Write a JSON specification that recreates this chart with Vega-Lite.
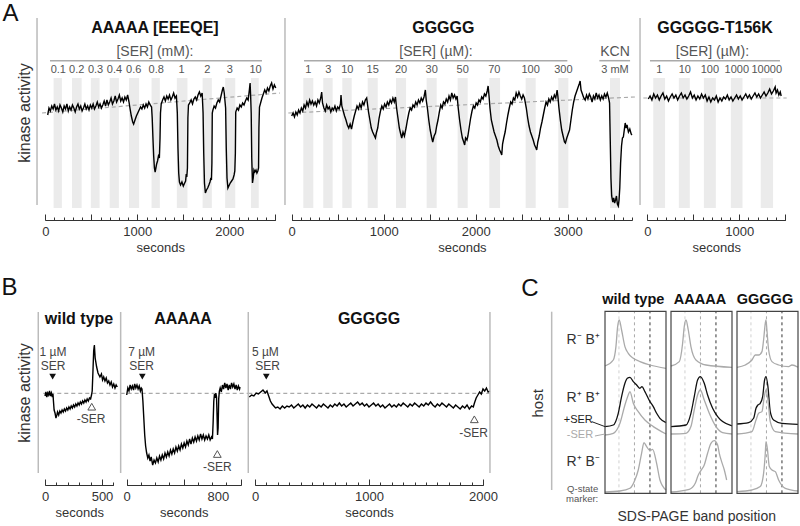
{
"$schema":"https://vega.github.io/schema/vega-lite/v6.json",
"width":800,"height":526,"autosize":{"type":"none"},"padding":0,"background":"white",
"config":{"view":{"stroke":null},"font":"Liberation Sans","axis":{"grid":false,"labelFont":"Liberation Sans","titleFont":"Liberation Sans","labelFlush":false,"labelOverlap":false,"labelBound":false,"domainColor":"#333","tickColor":"#333","labelColor":"#333","titleColor":"#333","titleFontWeight":"normal"}},
"datasets":{
"bandsA1":[{"start":90,"end":180,"conc":"0.1"},{"start":290,"end":395,"conc":"0.2"},{"start":495,"end":590,"conc":"0.3"},{"start":700,"end":800,"conc":"0.4"},{"start":910,"end":1020,"conc":"0.6"},{"start":1155,"end":1245,"conc":"0.8"},{"start":1430,"end":1545,"conc":"1"},{"start":1710,"end":1810,"conc":"2"},{"start":1955,"end":2065,"conc":"3"},{"start":2235,"end":2320,"conc":"10"}],
"bandsA2":[{"start":126,"end":235,"conc":"1"},{"start":343,"end":445,"conc":"3"},{"start":550,"end":652,"conc":"10"},{"start":826,"end":935,"conc":"15"},{"start":1134,"end":1243,"conc":"20"},{"start":1467,"end":1576,"conc":"30"},{"start":1804,"end":1913,"conc":"50"},{"start":2148,"end":2265,"conc":"70"},{"start":2543,"end":2652,"conc":"100"},{"start":2898,"end":3007,"conc":"300"},{"start":3460,"end":3568,"conc":"3 mM"}],
"bandsA3":[{"start":65,"end":193,"conc":"1"},{"start":343,"end":462,"conc":"10"},{"start":615,"end":745,"conc":"100"},{"start":908,"end":1035,"conc":"1000"},{"start":1233,"end":1367,"conc":"10000"}],
"traceA1":[{"t":26,"v":93},{"t":40,"v":100},{"t":55,"v":97},{"t":70,"v":102},{"t":85,"v":99},{"t":100,"v":104},{"t":115,"v":98},{"t":130,"v":101},{"t":145,"v":97},{"t":160,"v":103},{"t":175,"v":100},{"t":190,"v":96},{"t":205,"v":102},{"t":220,"v":99},{"t":235,"v":104},{"t":250,"v":97},{"t":265,"v":101},{"t":280,"v":98},{"t":295,"v":103},{"t":310,"v":100},{"t":325,"v":96},{"t":340,"v":101},{"t":355,"v":104},{"t":370,"v":99},{"t":385,"v":102},{"t":400,"v":97},{"t":415,"v":100},{"t":430,"v":104},{"t":445,"v":99},{"t":460,"v":102},{"t":475,"v":98},{"t":490,"v":103},{"t":505,"v":100},{"t":520,"v":104},{"t":535,"v":99},{"t":550,"v":102},{"t":565,"v":106},{"t":580,"v":101},{"t":595,"v":104},{"t":610,"v":100},{"t":625,"v":103},{"t":640,"v":107},{"t":655,"v":102},{"t":670,"v":108},{"t":685,"v":103},{"t":700,"v":106},{"t":715,"v":110},{"t":730,"v":104},{"t":745,"v":107},{"t":760,"v":112},{"t":775,"v":106},{"t":790,"v":109},{"t":805,"v":113},{"t":820,"v":107},{"t":835,"v":110},{"t":850,"v":106},{"t":865,"v":111},{"t":880,"v":108},{"t":895,"v":113},{"t":910,"v":106},{"t":920,"v":100},{"t":935,"v":92},{"t":950,"v":86},{"t":960,"v":84},{"t":975,"v":88},{"t":990,"v":92},{"t":1005,"v":95},{"t":1020,"v":98},{"t":1035,"v":101},{"t":1050,"v":99},{"t":1065,"v":103},{"t":1080,"v":100},{"t":1095,"v":104},{"t":1110,"v":101},{"t":1125,"v":106},{"t":1140,"v":103},{"t":1155,"v":101},{"t":1162,"v":90},{"t":1170,"v":70},{"t":1178,"v":52},{"t":1186,"v":40},{"t":1194,"v":36},{"t":1202,"v":40},{"t":1210,"v":44},{"t":1220,"v":47},{"t":1230,"v":52},{"t":1240,"v":50},{"t":1247,"v":70},{"t":1252,"v":95},{"t":1260,"v":104},{"t":1275,"v":108},{"t":1290,"v":111},{"t":1305,"v":107},{"t":1320,"v":112},{"t":1335,"v":109},{"t":1350,"v":113},{"t":1365,"v":108},{"t":1380,"v":111},{"t":1395,"v":115},{"t":1410,"v":110},{"t":1425,"v":112},{"t":1435,"v":95},{"t":1442,"v":60},{"t":1450,"v":35},{"t":1458,"v":26},{"t":1470,"v":23},{"t":1485,"v":26},{"t":1500,"v":22},{"t":1515,"v":25},{"t":1525,"v":27},{"t":1532,"v":34},{"t":1538,"v":31},{"t":1545,"v":40},{"t":1550,"v":90},{"t":1556,"v":103},{"t":1570,"v":105},{"t":1585,"v":108},{"t":1600,"v":104},{"t":1615,"v":109},{"t":1630,"v":111},{"t":1645,"v":108},{"t":1660,"v":113},{"t":1675,"v":116},{"t":1690,"v":112},{"t":1705,"v":115},{"t":1715,"v":95},{"t":1722,"v":55},{"t":1730,"v":25},{"t":1740,"v":15},{"t":1752,"v":18},{"t":1765,"v":20},{"t":1778,"v":23},{"t":1790,"v":26},{"t":1800,"v":30},{"t":1806,"v":28},{"t":1811,"v":45},{"t":1815,"v":95},{"t":1822,"v":98},{"t":1835,"v":102},{"t":1850,"v":100},{"t":1865,"v":105},{"t":1880,"v":108},{"t":1895,"v":106},{"t":1910,"v":112},{"t":1925,"v":118},{"t":1935,"v":121},{"t":1945,"v":115},{"t":1960,"v":100},{"t":1967,"v":60},{"t":1975,"v":30},{"t":1985,"v":20},{"t":1995,"v":22},{"t":2010,"v":25},{"t":2025,"v":27},{"t":2040,"v":29},{"t":2052,"v":33},{"t":2060,"v":37},{"t":2066,"v":55},{"t":2070,"v":96},{"t":2085,"v":100},{"t":2100,"v":98},{"t":2115,"v":103},{"t":2130,"v":101},{"t":2145,"v":105},{"t":2160,"v":103},{"t":2175,"v":107},{"t":2190,"v":110},{"t":2205,"v":108},{"t":2218,"v":118},{"t":2226,"v":125},{"t":2232,"v":112},{"t":2238,"v":95},{"t":2244,"v":50},{"t":2252,"v":25},{"t":2260,"v":30},{"t":2268,"v":38},{"t":2278,"v":36},{"t":2290,"v":38},{"t":2300,"v":35},{"t":2310,"v":37},{"t":2318,"v":40},{"t":2322,"v":80},{"t":2328,"v":101},{"t":2340,"v":105},{"t":2355,"v":110},{"t":2370,"v":114},{"t":2385,"v":118},{"t":2400,"v":115},{"t":2415,"v":120},{"t":2430,"v":117},{"t":2445,"v":122},{"t":2460,"v":125},{"t":2475,"v":119},{"t":2490,"v":123},{"t":2505,"v":120}],
"traceA2":[{"t":0,"v":92},{"t":15,"v":95},{"t":30,"v":91},{"t":45,"v":96},{"t":60,"v":93},{"t":75,"v":98},{"t":90,"v":95},{"t":105,"v":100},{"t":120,"v":97},{"t":135,"v":103},{"t":150,"v":100},{"t":165,"v":106},{"t":180,"v":102},{"t":195,"v":108},{"t":210,"v":104},{"t":225,"v":107},{"t":240,"v":103},{"t":255,"v":106},{"t":270,"v":102},{"t":285,"v":108},{"t":300,"v":105},{"t":315,"v":110},{"t":326,"v":116},{"t":335,"v":105},{"t":350,"v":100},{"t":365,"v":97},{"t":380,"v":103},{"t":395,"v":99},{"t":410,"v":101},{"t":425,"v":96},{"t":440,"v":100},{"t":455,"v":98},{"t":470,"v":102},{"t":485,"v":97},{"t":500,"v":101},{"t":515,"v":99},{"t":530,"v":104},{"t":536,"v":113},{"t":545,"v":102},{"t":560,"v":97},{"t":575,"v":92},{"t":590,"v":88},{"t":605,"v":83},{"t":620,"v":80},{"t":635,"v":84},{"t":650,"v":79},{"t":665,"v":86},{"t":680,"v":92},{"t":695,"v":97},{"t":710,"v":102},{"t":725,"v":99},{"t":740,"v":104},{"t":755,"v":100},{"t":770,"v":106},{"t":785,"v":103},{"t":800,"v":108},{"t":815,"v":110},{"t":825,"v":103},{"t":835,"v":96},{"t":850,"v":88},{"t":865,"v":80},{"t":880,"v":76},{"t":895,"v":73},{"t":910,"v":70},{"t":920,"v":75},{"t":935,"v":80},{"t":950,"v":90},{"t":965,"v":97},{"t":980,"v":102},{"t":995,"v":99},{"t":1010,"v":104},{"t":1025,"v":101},{"t":1040,"v":106},{"t":1055,"v":103},{"t":1070,"v":108},{"t":1085,"v":105},{"t":1100,"v":110},{"t":1115,"v":106},{"t":1128,"v":111},{"t":1140,"v":100},{"t":1155,"v":90},{"t":1170,"v":80},{"t":1185,"v":74},{"t":1196,"v":70},{"t":1210,"v":76},{"t":1225,"v":72},{"t":1243,"v":80},{"t":1258,"v":88},{"t":1273,"v":95},{"t":1288,"v":100},{"t":1303,"v":98},{"t":1318,"v":103},{"t":1333,"v":101},{"t":1348,"v":106},{"t":1363,"v":103},{"t":1378,"v":108},{"t":1393,"v":105},{"t":1408,"v":110},{"t":1423,"v":107},{"t":1438,"v":111},{"t":1453,"v":118},{"t":1462,"v":108},{"t":1475,"v":100},{"t":1490,"v":88},{"t":1505,"v":78},{"t":1520,"v":71},{"t":1533,"v":66},{"t":1548,"v":72},{"t":1563,"v":75},{"t":1576,"v":82},{"t":1590,"v":88},{"t":1605,"v":96},{"t":1620,"v":103},{"t":1635,"v":100},{"t":1650,"v":106},{"t":1665,"v":104},{"t":1680,"v":109},{"t":1695,"v":106},{"t":1710,"v":112},{"t":1725,"v":108},{"t":1740,"v":115},{"t":1755,"v":110},{"t":1770,"v":113},{"t":1785,"v":109},{"t":1798,"v":112},{"t":1810,"v":100},{"t":1825,"v":88},{"t":1840,"v":78},{"t":1855,"v":70},{"t":1870,"v":66},{"t":1880,"v":63},{"t":1890,"v":70},{"t":1905,"v":68},{"t":1915,"v":72},{"t":1930,"v":81},{"t":1945,"v":90},{"t":1960,"v":97},{"t":1975,"v":102},{"t":1990,"v":100},{"t":2005,"v":105},{"t":2020,"v":103},{"t":2035,"v":108},{"t":2050,"v":106},{"t":2065,"v":111},{"t":2080,"v":109},{"t":2095,"v":114},{"t":2110,"v":112},{"t":2125,"v":117},{"t":2135,"v":122},{"t":2145,"v":112},{"t":2155,"v":100},{"t":2170,"v":88},{"t":2185,"v":82},{"t":2200,"v":76},{"t":2215,"v":72},{"t":2230,"v":68},{"t":2245,"v":62},{"t":2260,"v":58},{"t":2275,"v":55},{"t":2283,"v":53},{"t":2292,"v":64},{"t":2305,"v":70},{"t":2320,"v":76},{"t":2335,"v":85},{"t":2350,"v":93},{"t":2365,"v":100},{"t":2380,"v":106},{"t":2395,"v":104},{"t":2410,"v":110},{"t":2425,"v":108},{"t":2440,"v":115},{"t":2455,"v":111},{"t":2470,"v":116},{"t":2485,"v":112},{"t":2500,"v":109},{"t":2515,"v":113},{"t":2530,"v":110},{"t":2550,"v":100},{"t":2565,"v":90},{"t":2580,"v":82},{"t":2595,"v":76},{"t":2610,"v":72},{"t":2625,"v":68},{"t":2640,"v":63},{"t":2655,"v":60},{"t":2663,"v":58},{"t":2675,"v":66},{"t":2690,"v":72},{"t":2705,"v":80},{"t":2720,"v":86},{"t":2735,"v":93},{"t":2750,"v":100},{"t":2765,"v":106},{"t":2780,"v":103},{"t":2795,"v":109},{"t":2810,"v":106},{"t":2825,"v":111},{"t":2840,"v":108},{"t":2855,"v":113},{"t":2870,"v":110},{"t":2885,"v":118},{"t":2893,"v":112},{"t":2905,"v":100},{"t":2920,"v":88},{"t":2935,"v":78},{"t":2950,"v":72},{"t":2965,"v":66},{"t":2975,"v":65},{"t":2990,"v":70},{"t":3005,"v":74},{"t":3020,"v":78},{"t":3035,"v":88},{"t":3050,"v":98},{"t":3065,"v":106},{"t":3080,"v":112},{"t":3095,"v":116},{"t":3110,"v":120},{"t":3125,"v":124},{"t":3135,"v":127},{"t":3145,"v":118},{"t":3160,"v":114},{"t":3175,"v":110},{"t":3190,"v":108},{"t":3205,"v":113},{"t":3220,"v":109},{"t":3235,"v":114},{"t":3250,"v":111},{"t":3265,"v":106},{"t":3280,"v":112},{"t":3295,"v":109},{"t":3310,"v":115},{"t":3325,"v":110},{"t":3340,"v":113},{"t":3355,"v":108},{"t":3370,"v":112},{"t":3385,"v":109},{"t":3400,"v":114},{"t":3415,"v":111},{"t":3430,"v":115},{"t":3445,"v":110},{"t":3455,"v":105},{"t":3462,"v":70},{"t":3470,"v":30},{"t":3478,"v":12},{"t":3490,"v":6},{"t":3500,"v":10},{"t":3510,"v":5},{"t":3520,"v":8},{"t":3530,"v":12},{"t":3540,"v":4},{"t":3550,"v":2},{"t":3558,"v":8},{"t":3566,"v":20},{"t":3575,"v":45},{"t":3585,"v":62},{"t":3595,"v":70},{"t":3605,"v":71},{"t":3615,"v":78},{"t":3625,"v":85},{"t":3635,"v":80},{"t":3645,"v":83},{"t":3660,"v":76},{"t":3675,"v":79},{"t":3690,"v":74},{"t":3698,"v":73}],
"traceA3":[{"t":11,"v":109},{"t":30,"v":112},{"t":50,"v":108},{"t":70,"v":114},{"t":90,"v":110},{"t":110,"v":113},{"t":130,"v":108},{"t":150,"v":112},{"t":170,"v":115},{"t":190,"v":109},{"t":210,"v":112},{"t":230,"v":107},{"t":250,"v":111},{"t":270,"v":114},{"t":290,"v":110},{"t":310,"v":113},{"t":330,"v":108},{"t":350,"v":112},{"t":370,"v":115},{"t":390,"v":110},{"t":410,"v":113},{"t":430,"v":109},{"t":450,"v":112},{"t":470,"v":116},{"t":490,"v":110},{"t":510,"v":113},{"t":530,"v":108},{"t":550,"v":112},{"t":570,"v":109},{"t":590,"v":114},{"t":610,"v":110},{"t":630,"v":113},{"t":650,"v":107},{"t":670,"v":111},{"t":690,"v":106},{"t":710,"v":110},{"t":730,"v":108},{"t":750,"v":112},{"t":770,"v":106},{"t":790,"v":110},{"t":810,"v":107},{"t":830,"v":111},{"t":850,"v":109},{"t":870,"v":113},{"t":890,"v":108},{"t":910,"v":111},{"t":930,"v":107},{"t":950,"v":110},{"t":970,"v":113},{"t":990,"v":109},{"t":1010,"v":112},{"t":1030,"v":108},{"t":1050,"v":111},{"t":1070,"v":114},{"t":1090,"v":110},{"t":1110,"v":113},{"t":1130,"v":109},{"t":1150,"v":112},{"t":1170,"v":115},{"t":1190,"v":111},{"t":1210,"v":114},{"t":1230,"v":110},{"t":1250,"v":113},{"t":1270,"v":116},{"t":1290,"v":112},{"t":1310,"v":115},{"t":1330,"v":119},{"t":1350,"v":114},{"t":1370,"v":117},{"t":1390,"v":121},{"t":1400,"v":115},{"t":1415,"v":118},{"t":1430,"v":113},{"t":1445,"v":116},{"t":1455,"v":112}],
"traceB1":[{"t":0,"v":77},{"t":8,"v":81},{"t":16,"v":76},{"t":24,"v":80},{"t":32,"v":78},{"t":40,"v":82},{"t":48,"v":77},{"t":56,"v":80},{"t":64,"v":76},{"t":70,"v":79},{"t":74,"v":72},{"t":80,"v":63},{"t":88,"v":60},{"t":96,"v":55},{"t":104,"v":58},{"t":110,"v":61},{"t":120,"v":58},{"t":130,"v":62},{"t":140,"v":60},{"t":150,"v":63},{"t":160,"v":61},{"t":170,"v":64},{"t":180,"v":62},{"t":190,"v":65},{"t":200,"v":63},{"t":210,"v":66},{"t":220,"v":64},{"t":230,"v":67},{"t":240,"v":65},{"t":250,"v":68},{"t":260,"v":66},{"t":270,"v":69},{"t":280,"v":67},{"t":290,"v":70},{"t":300,"v":68},{"t":310,"v":71},{"t":320,"v":69},{"t":330,"v":72},{"t":340,"v":70},{"t":350,"v":73},{"t":360,"v":71},{"t":370,"v":74},{"t":380,"v":72},{"t":390,"v":75},{"t":400,"v":74},{"t":408,"v":78},{"t":414,"v":82},{"t":420,"v":100},{"t":427,"v":122},{"t":433,"v":128},{"t":440,"v":115},{"t":453,"v":106},{"t":465,"v":100},{"t":482,"v":96},{"t":495,"v":99},{"t":505,"v":93},{"t":515,"v":96},{"t":526,"v":92},{"t":537,"v":95},{"t":548,"v":90},{"t":559,"v":92},{"t":570,"v":88},{"t":581,"v":91},{"t":592,"v":86},{"t":603,"v":89},{"t":614,"v":85},{"t":624,"v":88},{"t":634,"v":86}],
"traceB2":[{"t":0,"v":78},{"t":10,"v":85},{"t":20,"v":82},{"t":30,"v":88},{"t":40,"v":84},{"t":50,"v":87},{"t":60,"v":83},{"t":70,"v":89},{"t":80,"v":85},{"t":90,"v":88},{"t":100,"v":84},{"t":110,"v":87},{"t":120,"v":82},{"t":128,"v":85},{"t":134,"v":84},{"t":142,"v":72},{"t":150,"v":55},{"t":158,"v":38},{"t":166,"v":27},{"t":175,"v":20},{"t":185,"v":15},{"t":195,"v":18},{"t":205,"v":12},{"t":215,"v":16},{"t":228,"v":8},{"t":240,"v":13},{"t":252,"v":10},{"t":264,"v":15},{"t":276,"v":11},{"t":288,"v":17},{"t":300,"v":13},{"t":312,"v":18},{"t":324,"v":14},{"t":336,"v":20},{"t":348,"v":16},{"t":360,"v":21},{"t":372,"v":17},{"t":384,"v":23},{"t":396,"v":19},{"t":408,"v":24},{"t":420,"v":20},{"t":432,"v":26},{"t":444,"v":22},{"t":456,"v":27},{"t":468,"v":23},{"t":480,"v":29},{"t":492,"v":25},{"t":504,"v":30},{"t":516,"v":26},{"t":528,"v":32},{"t":540,"v":28},{"t":552,"v":34},{"t":564,"v":29},{"t":576,"v":35},{"t":588,"v":31},{"t":600,"v":36},{"t":612,"v":32},{"t":624,"v":37},{"t":636,"v":33},{"t":648,"v":39},{"t":660,"v":34},{"t":672,"v":38},{"t":684,"v":33},{"t":696,"v":37},{"t":708,"v":34},{"t":720,"v":38},{"t":732,"v":33},{"t":744,"v":36},{"t":752,"v":34},{"t":758,"v":50},{"t":764,"v":72},{"t":770,"v":79},{"t":776,"v":75},{"t":782,"v":80},{"t":788,"v":76},{"t":792,"v":60},{"t":797,"v":38},{"t":802,"v":45},{"t":807,"v":74},{"t":813,"v":82},{"t":820,"v":85},{"t":830,"v":81},{"t":840,"v":88},{"t":850,"v":84},{"t":860,"v":90},{"t":870,"v":85},{"t":880,"v":89},{"t":890,"v":83},{"t":900,"v":88},{"t":910,"v":84},{"t":920,"v":90},{"t":930,"v":86},{"t":940,"v":89},{"t":950,"v":84},{"t":960,"v":88},{"t":970,"v":83},{"t":980,"v":87},{"t":990,"v":84},{"t":994,"v":86}],
"traceB3":[{"t":-50,"v":76},{"t":-30,"v":78},{"t":-10,"v":77},{"t":10,"v":80},{"t":30,"v":79},{"t":50,"v":81},{"t":70,"v":83},{"t":90,"v":80},{"t":105,"v":82},{"t":120,"v":77},{"t":135,"v":72},{"t":150,"v":69},{"t":165,"v":67},{"t":180,"v":65},{"t":200,"v":66},{"t":220,"v":64},{"t":240,"v":67},{"t":260,"v":65},{"t":280,"v":67},{"t":300,"v":66},{"t":320,"v":68},{"t":340,"v":65},{"t":360,"v":67},{"t":380,"v":69},{"t":400,"v":66},{"t":420,"v":68},{"t":440,"v":65},{"t":460,"v":68},{"t":480,"v":66},{"t":500,"v":69},{"t":520,"v":67},{"t":540,"v":65},{"t":560,"v":68},{"t":580,"v":66},{"t":600,"v":69},{"t":620,"v":67},{"t":640,"v":65},{"t":660,"v":68},{"t":680,"v":66},{"t":700,"v":69},{"t":720,"v":67},{"t":740,"v":70},{"t":760,"v":67},{"t":780,"v":69},{"t":800,"v":66},{"t":820,"v":68},{"t":840,"v":70},{"t":860,"v":67},{"t":880,"v":69},{"t":900,"v":71},{"t":920,"v":68},{"t":940,"v":70},{"t":960,"v":67},{"t":980,"v":69},{"t":1000,"v":66},{"t":1020,"v":68},{"t":1040,"v":70},{"t":1060,"v":67},{"t":1080,"v":69},{"t":1100,"v":66},{"t":1120,"v":68},{"t":1140,"v":65},{"t":1160,"v":67},{"t":1180,"v":69},{"t":1200,"v":66},{"t":1220,"v":68},{"t":1240,"v":66},{"t":1260,"v":69},{"t":1280,"v":67},{"t":1300,"v":70},{"t":1320,"v":68},{"t":1340,"v":66},{"t":1360,"v":69},{"t":1380,"v":67},{"t":1400,"v":70},{"t":1420,"v":68},{"t":1440,"v":66},{"t":1460,"v":69},{"t":1480,"v":67},{"t":1500,"v":70},{"t":1520,"v":68},{"t":1540,"v":71},{"t":1560,"v":68},{"t":1580,"v":66},{"t":1600,"v":69},{"t":1620,"v":67},{"t":1640,"v":70},{"t":1660,"v":68},{"t":1680,"v":66},{"t":1700,"v":69},{"t":1720,"v":67},{"t":1740,"v":65},{"t":1760,"v":68},{"t":1780,"v":66},{"t":1800,"v":64},{"t":1820,"v":67},{"t":1840,"v":65},{"t":1860,"v":68},{"t":1880,"v":64},{"t":1900,"v":67},{"t":1915,"v":66},{"t":1925,"v":70},{"t":1940,"v":75},{"t":1955,"v":78},{"t":1970,"v":81},{"t":1985,"v":79},{"t":2000,"v":84},{"t":2015,"v":82},{"t":2030,"v":85},{"t":2045,"v":81},{"t":2061,"v":82}],
"curvesWT":[{"x":-1.8,"v":127.3,"s":"RmBp"},{"x":-0.73,"v":133.3,"s":"RmBp"},{"x":-0.39,"v":146.7,"s":"RmBp"},{"x":-0.17,"v":166.7,"s":"RmBp"},{"x":0.04,"v":173.3,"s":"RmBp"},{"x":0.34,"v":163.3,"s":"RmBp"},{"x":0.77,"v":146.7,"s":"RmBp"},{"x":1.2,"v":140,"s":"RmBp"},{"x":1.85,"v":135,"s":"RmBp"},{"x":2.71,"v":131.7,"s":"RmBp"},{"x":4.0,"v":128.3,"s":"RmBp"},{"x":6.07,"v":125,"s":"RmBp"},
{"x":-1.8,"v":66.7,"s":"plus"},{"x":-0.73,"v":68.3,"s":"plus"},{"x":-0.09,"v":80,"s":"plus"},{"x":0.34,"v":96.7,"s":"plus"},{"x":0.77,"v":110,"s":"plus"},{"x":1.08,"v":115,"s":"plus"},{"x":1.42,"v":116,"s":"plus"},{"x":1.85,"v":111.7,"s":"plus"},{"x":2.28,"v":108.3,"s":"plus"},{"x":2.71,"v":105,"s":"plus"},{"x":2.97,"v":106.7,"s":"plus"},{"x":3.35,"v":101.7,"s":"plus"},{"x":4.0,"v":91.7,"s":"plus"},{"x":4.43,"v":86.7,"s":"plus"},{"x":4.86,"v":80,"s":"plus"},{"x":5.29,"v":75,"s":"plus"},{"x":6.07,"v":70.7,"s":"plus"},
{"x":-1.8,"v":58.3,"s":"minus"},{"x":-0.73,"v":60,"s":"minus"},{"x":0.13,"v":70,"s":"minus"},{"x":0.77,"v":88.3,"s":"minus"},{"x":1.2,"v":98.3,"s":"minus"},{"x":1.42,"v":101.7,"s":"minus"},{"x":1.85,"v":90,"s":"minus"},{"x":2.49,"v":81.7,"s":"minus"},{"x":3.35,"v":73.3,"s":"minus"},{"x":4.43,"v":66.7,"s":"minus"},{"x":6.07,"v":59.3,"s":"minus"},
{"x":-1.8,"v":1.3,"s":"RpBm"},{"x":0.13,"v":2.3,"s":"RpBm"},{"x":1.42,"v":5,"s":"RpBm"},{"x":2.06,"v":13.3,"s":"RpBm"},{"x":2.49,"v":23.3,"s":"RpBm"},{"x":2.92,"v":40,"s":"RpBm"},{"x":3.23,"v":50.7,"s":"RpBm"},{"x":3.57,"v":46.7,"s":"RpBm"},{"x":4.0,"v":42.7,"s":"RpBm"},{"x":4.34,"v":44,"s":"RpBm"},{"x":4.86,"v":30,"s":"RpBm"},{"x":5.29,"v":13.3,"s":"RpBm"},{"x":6.07,"v":3.3,"s":"RpBm"}],
"curvesAA":[{"x":-1.8,"v":127.3,"s":"RmBp"},{"x":-0.73,"v":131.7,"s":"RmBp"},{"x":-0.3,"v":150,"s":"RmBp"},{"x":-0.09,"v":166.7,"s":"RmBp"},{"x":0.13,"v":173.3,"s":"RmBp"},{"x":0.43,"v":163.3,"s":"RmBp"},{"x":0.77,"v":146.7,"s":"RmBp"},{"x":1.42,"v":133.3,"s":"RmBp"},{"x":2.71,"v":128.3,"s":"RmBp"},{"x":6.07,"v":126,"s":"RmBp"},
{"x":-1.8,"v":66.7,"s":"plus"},{"x":0.13,"v":68.3,"s":"plus"},{"x":0.77,"v":80,"s":"plus"},{"x":1.2,"v":96.7,"s":"plus"},{"x":1.63,"v":113.3,"s":"plus"},{"x":1.98,"v":116.7,"s":"plus"},{"x":2.49,"v":110,"s":"plus"},{"x":2.92,"v":98.3,"s":"plus"},{"x":3.57,"v":85,"s":"plus"},{"x":4.22,"v":76.7,"s":"plus"},{"x":4.86,"v":71.7,"s":"plus"},{"x":6.07,"v":67.5,"s":"plus"},
{"x":-1.8,"v":59.3,"s":"minus"},{"x":0.13,"v":60,"s":"minus"},{"x":0.77,"v":66.7,"s":"minus"},{"x":1.2,"v":83.3,"s":"minus"},{"x":1.63,"v":98.3,"s":"minus"},{"x":1.98,"v":103.3,"s":"minus"},{"x":2.49,"v":93.3,"s":"minus"},{"x":3.14,"v":80,"s":"minus"},{"x":4.0,"v":66.7,"s":"minus"},{"x":4.86,"v":60.7,"s":"minus"},{"x":6.07,"v":59.3,"s":"minus"},
{"x":-1.8,"v":1.3,"s":"RpBm"},{"x":0.56,"v":4,"s":"RpBm"},{"x":1.33,"v":10,"s":"RpBm"},{"x":1.72,"v":18.3,"s":"RpBm"},{"x":2.06,"v":22.7,"s":"RpBm"},{"x":2.49,"v":28.3,"s":"RpBm"},{"x":2.92,"v":40,"s":"RpBm"},{"x":3.35,"v":50,"s":"RpBm"},{"x":3.78,"v":52.7,"s":"RpBm"},{"x":4.22,"v":48.3,"s":"RpBm"},{"x":4.43,"v":40,"s":"RpBm"},{"x":4.73,"v":31.7,"s":"RpBm"},{"x":5.08,"v":23.3,"s":"RpBm"},{"x":5.38,"v":13.3,"s":"RpBm"}],
"curvesGG":[{"x":-1.8,"v":126,"s":"RmBp"},{"x":-0.73,"v":128.3,"s":"RmBp"},{"x":0.13,"v":133.3,"s":"RmBp"},{"x":0.56,"v":138.3,"s":"RmBp"},{"x":0.99,"v":138.3,"s":"RmBp"},{"x":1.42,"v":141.7,"s":"RmBp"},{"x":1.63,"v":153.3,"s":"RmBp"},{"x":1.85,"v":170,"s":"RmBp"},{"x":1.94,"v":173.3,"s":"RmBp"},{"x":2.06,"v":163.3,"s":"RmBp"},{"x":2.28,"v":143.3,"s":"RmBp"},{"x":2.71,"v":131.7,"s":"RmBp"},{"x":3.57,"v":128.3,"s":"RmBp"},{"x":4.86,"v":126.7,"s":"RmBp"},{"x":5.29,"v":128.3,"s":"RmBp"},{"x":6.07,"v":126,"s":"RmBp"},
{"x":-1.8,"v":69.3,"s":"plus"},{"x":-0.3,"v":70.7,"s":"plus"},{"x":0.34,"v":75,"s":"plus"},{"x":0.65,"v":85,"s":"plus"},{"x":0.9,"v":88.3,"s":"plus"},{"x":1.2,"v":90,"s":"plus"},{"x":1.51,"v":96.7,"s":"plus"},{"x":1.76,"v":113.3,"s":"plus"},{"x":1.94,"v":116.7,"s":"plus"},{"x":2.19,"v":106.7,"s":"plus"},{"x":2.49,"v":81.7,"s":"plus"},{"x":2.92,"v":73.3,"s":"plus"},{"x":4.0,"v":70,"s":"plus"},{"x":6.07,"v":69,"s":"plus"},
{"x":-1.8,"v":59.3,"s":"minus"},{"x":0.13,"v":61.7,"s":"minus"},{"x":0.65,"v":73.3,"s":"minus"},{"x":0.99,"v":80,"s":"minus"},{"x":1.42,"v":81.7,"s":"minus"},{"x":1.72,"v":96.7,"s":"minus"},{"x":1.94,"v":103.3,"s":"minus"},{"x":2.19,"v":93.3,"s":"minus"},{"x":2.49,"v":71.7,"s":"minus"},{"x":3.14,"v":61.7,"s":"minus"},{"x":6.07,"v":59.3,"s":"minus"},
{"x":-1.8,"v":1.7,"s":"RpBm"},{"x":0.13,"v":3.3,"s":"RpBm"},{"x":1.2,"v":6.7,"s":"RpBm"},{"x":1.63,"v":20,"s":"RpBm"},{"x":1.85,"v":40,"s":"RpBm"},{"x":1.94,"v":51.7,"s":"RpBm"},{"x":2.11,"v":45,"s":"RpBm"},{"x":2.37,"v":26.7,"s":"RpBm"},{"x":2.71,"v":23.3,"s":"RpBm"},{"x":3.14,"v":21.7,"s":"RpBm"},{"x":3.57,"v":13.3,"s":"RpBm"},{"x":4.43,"v":5,"s":"RpBm"},{"x":6.07,"v":2.3,"s":"RpBm"}]
},
"layer":[
{"resolve":{"axis":{"x":"independent"}},"layer":[
 {"data":{"name":"bandsA1"},"mark":{"type":"rect","color":"#ebebeb"},"encoding":{"x":{"field":"start","type":"quantitative","scale":{"domain":[0,2500],"range":[45.3,275.3],"nice":false,"zero":false},"axis":{"orient":"bottom","offset":-306,"values":[0,100,200,300,400,500,600,700,800,900,1000,1100,1200,1300,1400,1500,1600,1700,1800,1900,2000,2100,2200,2300,2400,2500],"tickSize":-3,"labels":false,"domain":true,"title":null}},"x2":{"field":"end"},"y":{"datum":0,"type":"quantitative","scale":{"domain":[0,190],"range":[208,18],"nice":false,"zero":false},"axis":null},"y2":{"datum":130}}},
 {"data":{"name":"bandsA1"},"mark":{"type":"text","fontSize":11,"color":"#555","dx":4.7},"encoding":{"x":{"field":"start","type":"quantitative","axis":null},"y":{"datum":138,"type":"quantitative","axis":null},"text":{"field":"conc"}}},
 {"data":{"values":[{"t":-36,"v":95},{"t":2551,"v":115}]},"mark":{"type":"line","color":"#aaa","strokeDash":[4,3],"strokeWidth":1.2},"encoding":{"x":{"field":"t","type":"quantitative","axis":{"orient":"bottom","offset":-306,"values":[0,1000,2000],"ticks":false,"tickSize":0,"domain":false,"labelPadding":5,"labelFontSize":13,"format":"d","title":"seconds","titleFontSize":13,"titlePadding":3}},"y":{"field":"v","type":"quantitative","axis":null}}},
 {"data":{"name":"traceA1"},"mark":{"type":"line","color":"#000","strokeWidth":1.4},"encoding":{"x":{"field":"t","type":"quantitative","axis":{"orient":"bottom","offset":-306,"values":[0,500,1000,1500,2000,2500],"tickSize":-6,"labels":false,"domain":false,"title":null}},"y":{"field":"v","type":"quantitative","axis":null}}},
 {"data":{"values":[{}]},"mark":{"type":"rule","color":"#bbb","strokeWidth":1.5},"encoding":{"x":{"datum":-90,"type":"quantitative","axis":null},"y":{"datum":3,"type":"quantitative","axis":null},"y2":{"datum":190}}},
 {"data":{"values":[{}]},"mark":{"type":"rule","color":"#aaa","strokeWidth":1.5},"encoding":{"x":{"datum":51,"type":"quantitative","axis":null},"x2":{"datum":2355},"y":{"datum":147.3,"type":"quantitative","axis":null}}},
 {"data":{"values":[{"s":"AAAAA [EEEQE]"}]},"mark":{"type":"text","fontSize":16,"fontWeight":"bold","color":"#111"},"encoding":{"x":{"datum":1192,"type":"quantitative","axis":null},"y":{"datum":180,"type":"quantitative","axis":null},"text":{"field":"s"}}},
 {"data":{"values":[{"s":"[SER] (mM):"}]},"mark":{"type":"text","fontSize":14,"color":"#555"},"encoding":{"x":{"datum":1192,"type":"quantitative","axis":null},"y":{"datum":156,"type":"quantitative","axis":null},"text":{"field":"s"}}},
 {"data":{"values":[{"s":"A"}]},"mark":{"type":"text","fontSize":24,"color":"#111"},"encoding":{"x":{"datum":-378,"type":"quantitative","axis":null},"y":{"datum":194.5,"type":"quantitative","axis":null},"text":{"field":"s"}}},
 {"data":{"values":[{"s":"kinase activity"}]},"mark":{"type":"text","fontSize":16,"color":"#333","angle":270},"encoding":{"x":{"datum":-221,"type":"quantitative","axis":null},"y":{"datum":95,"type":"quantitative","axis":null},"text":{"field":"s"}}}
]},
{"resolve":{"axis":{"x":"independent"}},"layer":[
 {"data":{"name":"bandsA2"},"mark":{"type":"rect","color":"#ebebeb"},"encoding":{"x":{"field":"start","type":"quantitative","scale":{"domain":[0,3700],"range":[291.7,632.1],"nice":false,"zero":false},"axis":{"orient":"bottom","offset":-306,"values":[0,100,200,300,400,500,600,700,800,900,1000,1100,1200,1300,1400,1500,1600,1700,1800,1900,2000,2100,2200,2300,2400,2500,2600,2700,2800,2900,3000,3100,3200,3300,3400,3500,3600,3700],"tickSize":-3,"labels":false,"domain":true,"title":null}},"x2":{"field":"end"},"y":{"datum":0,"type":"quantitative","scale":{"domain":[0,190],"range":[208,18],"nice":false,"zero":false},"axis":null},"y2":{"datum":130}}},
 {"data":{"name":"bandsA2"},"mark":{"type":"text","fontSize":11,"color":"#555","dx":5},"encoding":{"x":{"field":"start","type":"quantitative","axis":null},"y":{"datum":138,"type":"quantitative","axis":null},"text":{"field":"conc"}}},
 {"data":{"values":[{"t":-37,"v":95},{"t":3731,"v":111}]},"mark":{"type":"line","color":"#aaa","strokeDash":[4,3],"strokeWidth":1.2},"encoding":{"x":{"field":"t","type":"quantitative","axis":{"orient":"bottom","offset":-306,"values":[0,1000,2000,3000],"ticks":false,"tickSize":0,"domain":false,"labelPadding":5,"labelFontSize":13,"format":"d","title":"seconds","titleFontSize":13,"titlePadding":3}},"y":{"field":"v","type":"quantitative","axis":null}}},
 {"data":{"name":"traceA2"},"mark":{"type":"line","color":"#000","strokeWidth":1.4},"encoding":{"x":{"field":"t","type":"quantitative","axis":{"orient":"bottom","offset":-306,"values":[0,500,1000,1500,2000,2500,3000,3500],"tickSize":-6,"labels":false,"domain":false,"title":null}},"y":{"field":"v","type":"quantitative","axis":null}}},
 {"data":{"values":[{}]},"mark":{"type":"rule","color":"#bbb","strokeWidth":1.5},"encoding":{"x":{"datum":-73,"type":"quantitative","axis":null},"y":{"datum":3,"type":"quantitative","axis":null},"y2":{"datum":190}}},
 {"data":{"values":[{}]},"mark":{"type":"rule","color":"#aaa","strokeWidth":1.5},"encoding":{"x":{"datum":134,"type":"quantitative","axis":null},"x2":{"datum":2996},"y":{"datum":147.3,"type":"quantitative","axis":null}}},
 {"data":{"values":[{}]},"mark":{"type":"rule","color":"#aaa","strokeWidth":1.5},"encoding":{"x":{"datum":3344,"type":"quantitative","axis":null},"x2":{"datum":3678},"y":{"datum":147.3,"type":"quantitative","axis":null}}},
 {"data":{"values":[{"s":"GGGGG"}]},"mark":{"type":"text","fontSize":16,"fontWeight":"bold","color":"#111"},"encoding":{"x":{"datum":1648,"type":"quantitative","axis":null},"y":{"datum":180,"type":"quantitative","axis":null},"text":{"field":"s"}}},
 {"data":{"values":[{"s":"[SER] (µM):"}]},"mark":{"type":"text","fontSize":14,"color":"#555"},"encoding":{"x":{"datum":1569,"type":"quantitative","axis":null},"y":{"datum":156,"type":"quantitative","axis":null},"text":{"field":"s"}}},
 {"data":{"values":[{"s":"KCN"}]},"mark":{"type":"text","fontSize":14,"color":"#555"},"encoding":{"x":{"datum":3514,"type":"quantitative","axis":null},"y":{"datum":156,"type":"quantitative","axis":null},"text":{"field":"s"}}}
]},
{"resolve":{"axis":{"x":"independent"}},"layer":[
 {"data":{"name":"bandsA3"},"mark":{"type":"rect","color":"#ebebeb"},"encoding":{"x":{"field":"start","type":"quantitative","scale":{"domain":[0,1500],"range":[647.3,785.3],"nice":false,"zero":false},"axis":{"orient":"bottom","offset":-306,"values":[0,100,200,300,400,500,600,700,800,900,1000,1100,1200,1300,1400,1500],"tickSize":-3,"labels":false,"domain":true,"title":null}},"x2":{"field":"end"},"y":{"datum":0,"type":"quantitative","scale":{"domain":[0,190],"range":[208,18],"nice":false,"zero":false},"axis":null},"y2":{"datum":130}}},
 {"data":{"name":"bandsA3"},"mark":{"type":"text","fontSize":11,"color":"#555","dx":6},"encoding":{"x":{"field":"start","type":"quantitative","axis":null},"y":{"datum":138,"type":"quantitative","axis":null},"text":{"field":"conc"}}},
 {"data":{"values":[{"t":-43,"v":110},{"t":1515,"v":110}]},"mark":{"type":"line","color":"#aaa","strokeDash":[4,3],"strokeWidth":1.2},"encoding":{"x":{"field":"t","type":"quantitative","axis":{"orient":"bottom","offset":-306,"values":[0,1000],"ticks":false,"tickSize":0,"domain":false,"labelPadding":5,"labelFontSize":13,"format":"d","title":"seconds","titleFontSize":13,"titlePadding":3}},"y":{"field":"v","type":"quantitative","axis":null}}},
 {"data":{"name":"traceA3"},"mark":{"type":"line","color":"#000","strokeWidth":1.4},"encoding":{"x":{"field":"t","type":"quantitative","axis":{"orient":"bottom","offset":-306,"values":[0,500,1000,1500],"tickSize":-6,"labels":false,"domain":false,"title":null}},"y":{"field":"v","type":"quantitative","axis":null}}},
 {"data":{"values":[{}]},"mark":{"type":"rule","color":"#bbb","strokeWidth":1.5},"encoding":{"x":{"datum":-79,"type":"quantitative","axis":null},"y":{"datum":3,"type":"quantitative","axis":null},"y2":{"datum":190}}},
 {"data":{"values":[{}]},"mark":{"type":"rule","color":"#aaa","strokeWidth":1.5},"encoding":{"x":{"datum":29,"type":"quantitative","axis":null},"x2":{"datum":1442},"y":{"datum":147.3,"type":"quantitative","axis":null}}},
 {"data":{"values":[{"s":"GGGGG-T156K"}]},"mark":{"type":"text","fontSize":16,"fontWeight":"bold","color":"#111"},"encoding":{"x":{"datum":736,"type":"quantitative","axis":null},"y":{"datum":180,"type":"quantitative","axis":null},"text":{"field":"s"}}},
 {"data":{"values":[{"s":"[SER] (µM):"}]},"mark":{"type":"text","fontSize":14,"color":"#555"},"encoding":{"x":{"datum":707,"type":"quantitative","axis":null},"y":{"datum":156,"type":"quantitative","axis":null},"text":{"field":"s"}}}
]},
{"resolve":{"axis":{"x":"independent"}},"layer":[
 {"data":{"values":[{"t":-15,"v":79.7},{"t":664,"v":79.7}]},"mark":{"type":"line","color":"#aaa","strokeDash":[4,3],"strokeWidth":1.2},"encoding":{"x":{"field":"t","type":"quantitative","scale":{"domain":[0,600],"range":[45,113.4],"nice":false,"zero":false},"axis":{"orient":"bottom","offset":-41,"values":[0,100,200,300,400,500,600],"tickSize":-3,"labels":false,"domain":true,"title":null}},"y":{"field":"v","type":"quantitative","scale":{"domain":[0,161],"range":[473,312],"nice":false,"zero":false},"axis":null}}},
 {"data":{"name":"traceB1"},"mark":{"type":"line","color":"#000","strokeWidth":1.4},"encoding":{"x":{"field":"t","type":"quantitative","axis":{"orient":"bottom","offset":-41,"values":[0,500],"tickSize":-6,"labels":false,"domain":false,"title":null}},"y":{"field":"v","type":"quantitative","axis":null}}},
 {"data":{"values":[{"t":70,"s":"1 µM"}]},"mark":{"type":"text","fontSize":12,"color":"#444"},"encoding":{"x":{"field":"t","type":"quantitative","axis":{"orient":"bottom","offset":-41,"values":[0,500],"ticks":false,"tickSize":0,"domain":false,"labelPadding":5,"labelFontSize":13,"format":"d","title":"seconds","titleFontSize":13,"titlePadding":3}},"y":{"datum":121.3,"type":"quantitative","axis":null},"text":{"field":"s"}}},
 {"data":{"values":[{"t":70,"s":"SER"}]},"mark":{"type":"text","fontSize":12,"color":"#444"},"encoding":{"x":{"field":"t","type":"quantitative","axis":null},"y":{"datum":107.3,"type":"quantitative","axis":null},"text":{"field":"s"}}},
 {"data":{"values":[{"t":67}]},"mark":{"type":"point","shape":"triangle-down","filled":true,"color":"#111","size":45,"opacity":1},"encoding":{"x":{"field":"t","type":"quantitative","axis":null},"y":{"datum":96.3,"type":"quantitative","axis":null}}},
 {"data":{"values":[{"t":410}]},"mark":{"type":"point","shape":"triangle-up","filled":false,"color":"#555","size":60,"strokeWidth":1,"opacity":1},"encoding":{"x":{"field":"t","type":"quantitative","axis":null},"y":{"datum":66.3,"type":"quantitative","axis":null}}},
 {"data":{"values":[{"t":404,"s":"-SER"}]},"mark":{"type":"text","fontSize":12,"color":"#444"},"encoding":{"x":{"field":"t","type":"quantitative","axis":null},"y":{"datum":53.7,"type":"quantitative","axis":null},"text":{"field":"s"}}},
 {"data":{"values":[{}]},"mark":{"type":"rule","color":"#bbb","strokeWidth":1.5},"encoding":{"x":{"datum":-59,"type":"quantitative","axis":null},"y":{"datum":0,"type":"quantitative","axis":null},"y2":{"datum":161}}},
 {"data":{"values":[{"s":"wild type"}]},"mark":{"type":"text","fontSize":16,"fontWeight":"bold","color":"#111"},"encoding":{"x":{"datum":298,"type":"quantitative","axis":null},"y":{"datum":153.7,"type":"quantitative","axis":null},"text":{"field":"s"}}},
 {"data":{"values":[{"s":"B"}]},"mark":{"type":"text","fontSize":24,"color":"#111"},"encoding":{"x":{"datum":-311,"type":"quantitative","axis":null},"y":{"datum":185,"type":"quantitative","axis":null},"text":{"field":"s"}}},
 {"data":{"values":[{"s":"kinase activity"}]},"mark":{"type":"text","fontSize":16,"color":"#333","angle":270},"encoding":{"x":{"datum":-175,"type":"quantitative","axis":null},"y":{"datum":80,"type":"quantitative","axis":null},"text":{"field":"s"}}}
]},
{"resolve":{"axis":{"x":"independent"}},"layer":[
 {"data":{"values":[{"t":-53,"v":79.7},{"t":1067,"v":79.7}]},"mark":{"type":"line","color":"#aaa","strokeDash":[4,3],"strokeWidth":1.2},"encoding":{"x":{"field":"t","type":"quantitative","scale":{"domain":[0,1000],"range":[126.7,240.7],"nice":false,"zero":false},"axis":{"orient":"bottom","offset":-41,"values":[0,125,250,375,500,625,750,875,1000],"tickSize":-3,"labels":false,"domain":true,"title":null}},"y":{"field":"v","type":"quantitative","scale":{"domain":[0,161],"range":[473,312],"nice":false,"zero":false},"axis":null}}},
 {"data":{"name":"traceB2"},"mark":{"type":"line","color":"#000","strokeWidth":1.4},"encoding":{"x":{"field":"t","type":"quantitative","axis":{"orient":"bottom","offset":-41,"values":[0,500,1000],"tickSize":-6,"labels":false,"domain":false,"title":null}},"y":{"field":"v","type":"quantitative","axis":null}}},
 {"data":{"values":[{"t":131,"s":"7 µM"}]},"mark":{"type":"text","fontSize":12,"color":"#444"},"encoding":{"x":{"field":"t","type":"quantitative","axis":{"orient":"bottom","offset":-41,"values":[0,800],"ticks":false,"tickSize":0,"domain":false,"labelPadding":5,"labelFontSize":13,"format":"d","title":"seconds","titleFontSize":13,"titlePadding":3}},"y":{"datum":121.3,"type":"quantitative","axis":null},"text":{"field":"s"}}},
 {"data":{"values":[{"t":131,"s":"SER"}]},"mark":{"type":"text","fontSize":12,"color":"#444"},"encoding":{"x":{"field":"t","type":"quantitative","axis":null},"y":{"datum":107.3,"type":"quantitative","axis":null},"text":{"field":"s"}}},
 {"data":{"values":[{"t":137}]},"mark":{"type":"point","shape":"triangle-down","filled":true,"color":"#111","size":45,"opacity":1},"encoding":{"x":{"field":"t","type":"quantitative","axis":null},"y":{"datum":96.3,"type":"quantitative","axis":null}}},
 {"data":{"values":[{"t":795}]},"mark":{"type":"point","shape":"triangle-up","filled":false,"color":"#555","size":60,"strokeWidth":1,"opacity":1},"encoding":{"x":{"field":"t","type":"quantitative","axis":null},"y":{"datum":19,"type":"quantitative","axis":null}}},
 {"data":{"values":[{"t":795,"s":"-SER"}]},"mark":{"type":"text","fontSize":12,"color":"#444"},"encoding":{"x":{"field":"t","type":"quantitative","axis":null},"y":{"datum":5.7,"type":"quantitative","axis":null},"text":{"field":"s"}}},
 {"data":{"values":[{}]},"mark":{"type":"rule","color":"#bbb","strokeWidth":1.5},"encoding":{"x":{"datum":-53,"type":"quantitative","axis":null},"y":{"datum":0,"type":"quantitative","axis":null},"y2":{"datum":161}}},
 {"data":{"values":[{"s":"AAAAA"}]},"mark":{"type":"text","fontSize":16,"fontWeight":"bold","color":"#111"},"encoding":{"x":{"datum":494,"type":"quantitative","axis":null},"y":{"datum":153.7,"type":"quantitative","axis":null},"text":{"field":"s"}}}
]},
{"resolve":{"axis":{"x":"independent"}},"layer":[
 {"data":{"values":[{"t":-59,"v":79.7},{"t":2061,"v":79.7}]},"mark":{"type":"line","color":"#aaa","strokeDash":[4,3],"strokeWidth":1.2},"encoding":{"x":{"field":"t","type":"quantitative","scale":{"domain":[0,2000],"range":[255,483],"nice":false,"zero":false},"axis":{"orient":"bottom","offset":-41,"values":[0,100,200,300,400,500,600,700,800,900,1000,1100,1200,1300,1400,1500,1600,1700,1800,1900,2000],"tickSize":-3,"labels":false,"domain":true,"title":null}},"y":{"field":"v","type":"quantitative","scale":{"domain":[0,161],"range":[473,312],"nice":false,"zero":false},"axis":null}}},
 {"data":{"name":"traceB3"},"mark":{"type":"line","color":"#000","strokeWidth":1.4},"encoding":{"x":{"field":"t","type":"quantitative","axis":{"orient":"bottom","offset":-41,"values":[0,1000,2000],"tickSize":-6,"labels":false,"domain":false,"title":null}},"y":{"field":"v","type":"quantitative","axis":null}}},
 {"data":{"values":[{"t":91,"s":"5 µM"}]},"mark":{"type":"text","fontSize":12,"color":"#444"},"encoding":{"x":{"field":"t","type":"quantitative","axis":{"orient":"bottom","offset":-41,"values":[0,1000,2000],"ticks":false,"tickSize":0,"domain":false,"labelPadding":5,"labelFontSize":13,"format":"d","title":"seconds","titleFontSize":13,"titlePadding":3}},"y":{"datum":121.3,"type":"quantitative","axis":null},"text":{"field":"s"}}},
 {"data":{"values":[{"t":110,"s":"SER"}]},"mark":{"type":"text","fontSize":12,"color":"#444"},"encoding":{"x":{"field":"t","type":"quantitative","axis":null},"y":{"datum":107.3,"type":"quantitative","axis":null},"text":{"field":"s"}}},
 {"data":{"values":[{"t":99}]},"mark":{"type":"point","shape":"triangle-down","filled":true,"color":"#111","size":45,"opacity":1},"encoding":{"x":{"field":"t","type":"quantitative","axis":null},"y":{"datum":96.3,"type":"quantitative","axis":null}}},
 {"data":{"values":[{"t":1924}]},"mark":{"type":"point","shape":"triangle-up","filled":false,"color":"#555","size":60,"strokeWidth":1,"opacity":1},"encoding":{"x":{"field":"t","type":"quantitative","axis":null},"y":{"datum":53.7,"type":"quantitative","axis":null}}},
 {"data":{"values":[{"t":1918,"s":"-SER"}]},"mark":{"type":"text","fontSize":12,"color":"#444"},"encoding":{"x":{"field":"t","type":"quantitative","axis":null},"y":{"datum":39.7,"type":"quantitative","axis":null},"text":{"field":"s"}}},
 {"data":{"values":[{}]},"mark":{"type":"rule","color":"#bbb","strokeWidth":1.5},"encoding":{"x":{"datum":-59,"type":"quantitative","axis":null},"y":{"datum":0,"type":"quantitative","axis":null},"y2":{"datum":161}}},
 {"data":{"values":[{}]},"mark":{"type":"rule","color":"#bbb","strokeWidth":1.5},"encoding":{"x":{"datum":2061,"type":"quantitative","axis":null},"y":{"datum":0,"type":"quantitative","axis":null},"y2":{"datum":161}}},
 {"data":{"values":[{"s":"GGGGG"}]},"mark":{"type":"text","fontSize":16,"fontWeight":"bold","color":"#111"},"encoding":{"x":{"datum":1000,"type":"quantitative","axis":null},"y":{"datum":153.7,"type":"quantitative","axis":null},"text":{"field":"s"}}}
]},
{"layer":[
 {"data":{"values":[{}]},"mark":{"type":"rule","color":"#d0d0d0","strokeDash":[3,3]},"encoding":{"x":{"datum":0,"type":"quantitative","scale":{"domain":[-1.8,6.07],"range":[605,666],"nice":false,"zero":false},"axis":null},"y":{"datum":0,"type":"quantitative","scale":{"domain":[0,182],"range":[493.3,311.3],"nice":false,"zero":false},"axis":null},"y2":{"datum":182}}},
 {"data":{"values":[{}]},"mark":{"type":"rule","color":"#aaa","strokeDash":[3,3]},"encoding":{"x":{"datum":2,"type":"quantitative","axis":null},"y":{"datum":0,"type":"quantitative","axis":null},"y2":{"datum":182}}},
 {"data":{"values":[{}]},"mark":{"type":"rule","color":"#333","strokeDash":[3,3]},"encoding":{"x":{"datum":4,"type":"quantitative","axis":null},"y":{"datum":0,"type":"quantitative","axis":null},"y2":{"datum":182}}},
 {"data":{"name":"curvesWT"},"mark":{"type":"line","interpolate":"monotone","strokeWidth":1.3},"encoding":{"x":{"field":"x","type":"quantitative","axis":{"orient":"bottom","offset":-32.7,"values":[0,2,4],"ticks":false,"tickSize":0,"domain":false,"labelPadding":3,"labelFontSize":12,"title":null}},"y":{"field":"v","type":"quantitative","axis":null},"color":{"field":"s","type":"nominal","scale":{"domain":["RmBp","plus","minus","RpBm"],"range":["#aaa","#111","#aaa","#aaa"]},"legend":null}}},
 {"data":{"values":[{}]},"mark":{"type":"rect","fillOpacity":0,"stroke":"#444","strokeWidth":1.2},"encoding":{"x":{"datum":-1.8,"type":"quantitative","axis":null},"x2":{"datum":6.07},"y":{"datum":0,"type":"quantitative","axis":null},"y2":{"datum":182}}},
 {"data":{"values":[{"s":"wild type"}]},"mark":{"type":"text","fontSize":14.5,"fontWeight":"bold","color":"#111"},"encoding":{"x":{"datum":1.85,"type":"quantitative","axis":null},"y":{"datum":193.3,"type":"quantitative","axis":null},"text":{"field":"s"}}},
 {"data":{"values":[{"s":"C"}]},"mark":{"type":"text","fontSize":24,"color":"#111"},"encoding":{"x":{"datum":-11.48,"type":"quantitative","axis":null},"y":{"datum":204.3,"type":"quantitative","axis":null},"text":{"field":"s"}}},
 {"data":{"values":[{"s":"host"}]},"mark":{"type":"text","fontSize":15,"color":"#333","angle":270},"encoding":{"x":{"datum":-10.41,"type":"quantitative","axis":null},"y":{"datum":90,"type":"quantitative","axis":null},"text":{"field":"s"}}},
 {"data":{"values":[{}]},"mark":{"type":"rule","color":"#bbb","strokeWidth":1.5},"encoding":{"x":{"datum":-8.68,"type":"quantitative","axis":null},"y":{"datum":3.3,"type":"quantitative","axis":null},"y2":{"datum":181.6}}},
 {"data":{"values":[{"s":"R⁻ B⁺"}]},"mark":{"type":"text","fontSize":14,"color":"#333"},"encoding":{"x":{"datum":-4.61,"type":"quantitative","axis":null},"y":{"datum":153.3,"type":"quantitative","axis":null},"text":{"field":"s"}}},
 {"data":{"values":[{"s":"R⁺ B⁺"}]},"mark":{"type":"text","fontSize":14,"color":"#333"},"encoding":{"x":{"datum":-4.61,"type":"quantitative","axis":null},"y":{"datum":95.3,"type":"quantitative","axis":null},"text":{"field":"s"}}},
 {"data":{"values":[{"s":"R⁺ B⁻"}]},"mark":{"type":"text","fontSize":14,"color":"#333"},"encoding":{"x":{"datum":-4.61,"type":"quantitative","axis":null},"y":{"datum":31.6,"type":"quantitative","axis":null},"text":{"field":"s"}}},
 {"data":{"values":[{"s":"+SER"}]},"mark":{"type":"text","fontSize":11,"color":"#222"},"encoding":{"x":{"datum":-5.25,"type":"quantitative","axis":null},"y":{"datum":73.3,"type":"quantitative","axis":null},"text":{"field":"s"}}},
 {"data":{"values":[{"s":"-SER"}]},"mark":{"type":"text","fontSize":11,"color":"#aaa"},"encoding":{"x":{"datum":-5.03,"type":"quantitative","axis":null},"y":{"datum":58.3,"type":"quantitative","axis":null},"text":{"field":"s"}}},
 {"data":{"values":[{}]},"mark":{"type":"rule","color":"#222","strokeWidth":1},"encoding":{"x":{"datum":-3.52,"type":"quantitative","axis":null},"x2":{"datum":-1.8},"y":{"datum":71.7,"type":"quantitative","axis":null},"y2":{"datum":66.7}}},
 {"data":{"values":[{}]},"mark":{"type":"rule","color":"#aaa","strokeWidth":1},"encoding":{"x":{"datum":-3.1,"type":"quantitative","axis":null},"x2":{"datum":-1.8},"y":{"datum":57.3,"type":"quantitative","axis":null},"y2":{"datum":59.3}}},
 {"data":{"values":[{"s":"Q-state"}]},"mark":{"type":"text","fontSize":9.5,"color":"#555","align":"right"},"encoding":{"x":{"datum":-2.67,"type":"quantitative","axis":null},"y":{"datum":4.5,"type":"quantitative","axis":null},"text":{"field":"s"}}},
 {"data":{"values":[{"s":"marker:"}]},"mark":{"type":"text","fontSize":9.5,"color":"#555","align":"right"},"encoding":{"x":{"datum":-2.67,"type":"quantitative","axis":null},"y":{"datum":-5.5,"type":"quantitative","axis":null},"text":{"field":"s"}}}
]},
{"layer":[
 {"data":{"values":[{}]},"mark":{"type":"rule","color":"#d0d0d0","strokeDash":[3,3]},"encoding":{"x":{"datum":0,"type":"quantitative","scale":{"domain":[-1.8,6.07],"range":[671,732],"nice":false,"zero":false},"axis":null},"y":{"datum":0,"type":"quantitative","scale":{"domain":[0,182],"range":[493.3,311.3],"nice":false,"zero":false},"axis":null},"y2":{"datum":182}}},
 {"data":{"values":[{}]},"mark":{"type":"rule","color":"#aaa","strokeDash":[3,3]},"encoding":{"x":{"datum":2,"type":"quantitative","axis":null},"y":{"datum":0,"type":"quantitative","axis":null},"y2":{"datum":182}}},
 {"data":{"values":[{}]},"mark":{"type":"rule","color":"#333","strokeDash":[3,3]},"encoding":{"x":{"datum":4,"type":"quantitative","axis":null},"y":{"datum":0,"type":"quantitative","axis":null},"y2":{"datum":182}}},
 {"data":{"name":"curvesAA"},"mark":{"type":"line","interpolate":"monotone","strokeWidth":1.3},"encoding":{"x":{"field":"x","type":"quantitative","axis":{"orient":"bottom","offset":-32.7,"values":[0,2,4],"ticks":false,"tickSize":0,"domain":false,"labelPadding":3,"labelFontSize":12,"title":null}},"y":{"field":"v","type":"quantitative","axis":null},"color":{"field":"s","type":"nominal","scale":{"domain":["RmBp","plus","minus","RpBm"],"range":["#aaa","#111","#aaa","#aaa"]},"legend":null}}},
 {"data":{"values":[{}]},"mark":{"type":"rect","fillOpacity":0,"stroke":"#444","strokeWidth":1.2},"encoding":{"x":{"datum":-1.8,"type":"quantitative","axis":null},"x2":{"datum":6.07},"y":{"datum":0,"type":"quantitative","axis":null},"y2":{"datum":182}}},
 {"data":{"values":[{"s":"AAAAA"}]},"mark":{"type":"text","fontSize":14.5,"fontWeight":"bold","color":"#111"},"encoding":{"x":{"datum":1.94,"type":"quantitative","axis":null},"y":{"datum":193.3,"type":"quantitative","axis":null},"text":{"field":"s"}}},
 {"data":{"values":[{"s":"SDS-PAGE band position"}]},"mark":{"type":"text","fontSize":14,"color":"#333"},"encoding":{"x":{"datum":1.52,"type":"quantitative","axis":null},"y":{"datum":-24,"type":"quantitative","axis":null},"text":{"field":"s"}}}
]},
{"layer":[
 {"data":{"values":[{}]},"mark":{"type":"rule","color":"#d0d0d0","strokeDash":[3,3]},"encoding":{"x":{"datum":0,"type":"quantitative","scale":{"domain":[-1.8,6.07],"range":[737,798],"nice":false,"zero":false},"axis":null},"y":{"datum":0,"type":"quantitative","scale":{"domain":[0,182],"range":[493.3,311.3],"nice":false,"zero":false},"axis":null},"y2":{"datum":182}}},
 {"data":{"values":[{}]},"mark":{"type":"rule","color":"#aaa","strokeDash":[3,3]},"encoding":{"x":{"datum":2,"type":"quantitative","axis":null},"y":{"datum":0,"type":"quantitative","axis":null},"y2":{"datum":182}}},
 {"data":{"values":[{}]},"mark":{"type":"rule","color":"#333","strokeDash":[3,3]},"encoding":{"x":{"datum":4,"type":"quantitative","axis":null},"y":{"datum":0,"type":"quantitative","axis":null},"y2":{"datum":182}}},
 {"data":{"name":"curvesGG"},"mark":{"type":"line","interpolate":"monotone","strokeWidth":1.3},"encoding":{"x":{"field":"x","type":"quantitative","axis":{"orient":"bottom","offset":-32.7,"values":[0,2,4],"ticks":false,"tickSize":0,"domain":false,"labelPadding":3,"labelFontSize":12,"title":null}},"y":{"field":"v","type":"quantitative","axis":null},"color":{"field":"s","type":"nominal","scale":{"domain":["RmBp","plus","minus","RpBm"],"range":["#aaa","#111","#aaa","#aaa"]},"legend":null}}},
 {"data":{"values":[{}]},"mark":{"type":"rect","fillOpacity":0,"stroke":"#444","strokeWidth":1.2},"encoding":{"x":{"datum":-1.8,"type":"quantitative","axis":null},"x2":{"datum":6.07},"y":{"datum":0,"type":"quantitative","axis":null},"y2":{"datum":182}}},
 {"data":{"values":[{"s":"GGGGG"}]},"mark":{"type":"text","fontSize":14.5,"fontWeight":"bold","color":"#111"},"encoding":{"x":{"datum":1.81,"type":"quantitative","axis":null},"y":{"datum":193.3,"type":"quantitative","axis":null},"text":{"field":"s"}}}
]}
],
"resolve":{"scale":{"x":"independent","y":"independent","color":"independent"},"axis":{"x":"independent","y":"independent"}}
}
